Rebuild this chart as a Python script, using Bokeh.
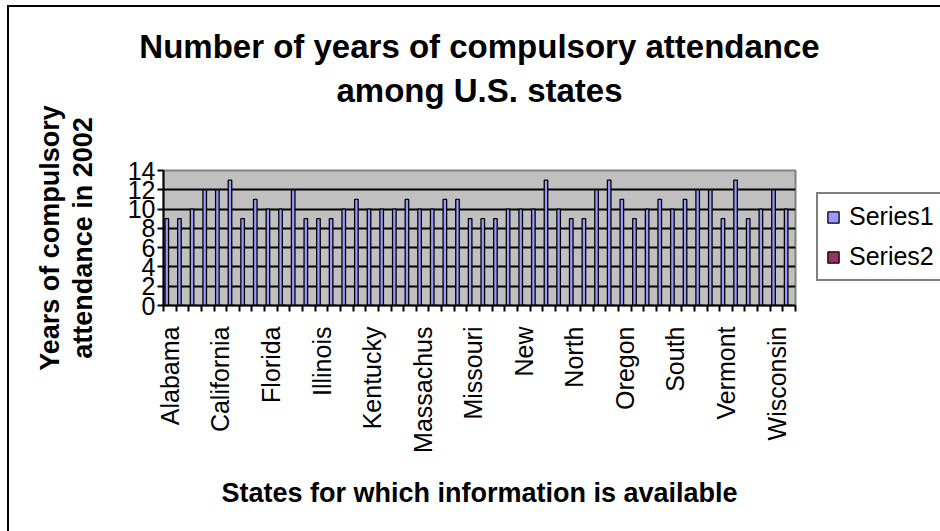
import math
import numpy as np
from bokeh.plotting import figure
from bokeh.models import Range1d, FixedTicker, Legend, LegendItem, LinearAxis
from bokeh.embed import file_html
from bokeh.resources import INLINE

# Years of compulsory attendance by state, 2002
states = ["Alabama", "Alaska", "Arizona", "Arkansas", "California", "Colorado",
          "Connecticut", "Delaware", "Florida", "Georgia", "Hawaii", "Idaho",
          "Illinois", "Indiana", "Iowa", "Kansas", "Kentucky", "Louisiana",
          "Maine", "Maryland", "Massachusetts", "Michigan", "Minnesota",
          "Mississippi", "Missouri", "Montana", "Nebraska", "Nevada",
          "New Hampshire", "New Jersey", "New Mexico", "New York",
          "North Carolina", "North Dakota", "Ohio", "Oklahoma", "Oregon",
          "Pennsylvania", "Rhode Island", "South Carolina", "South Dakota",
          "Tennessee", "Texas", "Utah", "Vermont", "Virginia", "Washington",
          "West Virginia", "Wisconsin", "Wyoming"]
series1 = [9, 9, 10, 12, 12, 13, 9, 11, 10, 10,
           12, 9, 9, 9, 10, 11, 10, 10, 10, 11,
           10, 10, 11, 11, 9, 9, 9, 10, 10, 10,
           13, 10, 9, 9, 12, 13, 11, 9, 10, 11,
           10, 11, 12, 12, 9, 13, 9, 10, 12, 10]
series2 = [0] * len(states)
tick_labels = ["Alabama", "California", "Florida", "Illinois", "Kentucky",
               "Massachus", "Missouri", "New", "North", "Oregon", "South",
               "Vermont", "Wisconsin"]
label_every = 4
y_ticks = [0, 2, 4, 6, 8, 10, 12, 14]
title_lines = ["Number of years of compulsory attendance", "among U.S. states"]

FONT = "Liberation Sans"
n = len(states)

p = figure(frame_width=632, frame_height=135, title=None,
           output_backend="svg", toolbar_location=None,
           x_range=Range1d(0, n), y_range=Range1d(0, 14),
           min_border_left=154, min_border_right=150,
           min_border_top=163, min_border_bottom=235,
           background_fill_color="#C0C0C0", border_fill_color="white")
# chart area border: left and top edges drawn as a hard shadow of the figure
p.margin = (7, 0, 0, 9)
p.styles = {"box-shadow": "-2px -2px 0 0 black"}
p.outline_line_color = "#808080"
p.outline_line_width = 2

xa = p.below[0]
ya = p.left[0]

idx = np.arange(n)
r1 = p.vbar(x=idx + 0.26, top=series1, width=0.28, bottom=0,
            fill_color="#9999FF", line_color="black", line_width=1.3)
r2 = p.vbar(x=idx + 0.54, top=series2, width=0.28, bottom=0,
            fill_color="#993366", line_color="black", line_width=1.3)

# grid
p.xgrid.visible = False
p.ygrid.ticker = FixedTicker(ticks=y_ticks[1:-1])
p.ygrid.grid_line_color = "black"
p.ygrid.grid_line_width = 2

# y axis
ya.ticker = FixedTicker(ticks=y_ticks)
ya.axis_line_width = 2
ya.axis_line_color = "black"
ya.major_tick_out = 6
ya.major_tick_in = 0
ya.major_tick_line_width = 2
ya.minor_tick_out = 0
ya.major_label_text_font = FONT
ya.major_label_text_font_size = "25px"
ya.major_label_text_color = "black"
ya.major_label_standoff = 2
ya.axis_label = "Years of compulsory\nattendance in 2002"
ya.axis_label_text_color = "black"
ya.axis_label_text_font = FONT
ya.axis_label_text_font_style = "bold"
ya.axis_label_text_font_size = "27px"
ya.axis_label_text_line_height = 1.1
ya.axis_label_standoff = 27

# x axis: ticks on category edges, labels on every 4th category centre
label_pos = [i + 0.5 for i in range(0, n, label_every)]
xa.ticker = FixedTicker(ticks=label_pos, minor_ticks=list(range(n + 1)))
xa.major_label_overrides = {pos: lab for pos, lab in zip(label_pos, tick_labels)}
xa.major_tick_out = 0
xa.major_tick_in = 0
xa.minor_tick_out = 6
xa.minor_tick_in = 0
xa.minor_tick_line_color = "black"
xa.minor_tick_line_width = 2
xa.axis_line_width = 2
xa.axis_line_color = "black"
xa.major_label_orientation = math.pi / 2
xa.major_label_text_font = FONT
xa.major_label_text_font_size = "25px"
xa.major_label_text_color = "black"
xa.major_label_standoff = 15
xa.axis_label = "States for which information is available"
xa.axis_label_text_color = "black"
xa.axis_label_text_font = FONT
xa.axis_label_text_font_style = "bold"
xa.axis_label_text_font_size = "27px"
xa.axis_label_standoff = 22

# two centred title lines, stacked above the plot area
for line, gap in zip(reversed(title_lines), (62, 4)):
    t = LinearAxis(ticker=FixedTicker(ticks=[]), axis_line_color=None,
                   major_tick_out=0, major_tick_in=0, minor_tick_out=0,
                   minor_tick_in=0, major_label_standoff=0,
                   axis_label=line, axis_label_standoff=gap,
                   axis_label_text_color="black", axis_label_text_font=FONT,
                   axis_label_text_font_style="bold",
                   axis_label_text_font_size="33px")
    p.add_layout(t, "above")

# legend
legend = Legend(items=[LegendItem(label="Series1", renderers=[r1]),
                       LegendItem(label="Series2", renderers=[r2])],
                location=(21, 24), orientation="vertical",
                label_text_font=FONT, label_text_font_size="25px",
                label_text_color="black",
                glyph_width=14, glyph_height=14, label_standoff=9,
                padding=8, spacing=11, margin=0,
                border_line_color="black", border_line_width=2,
                background_fill_color="white", background_fill_alpha=1)
p.add_layout(legend, "right")

open("out.html", "w").write(file_html(p, INLINE))
